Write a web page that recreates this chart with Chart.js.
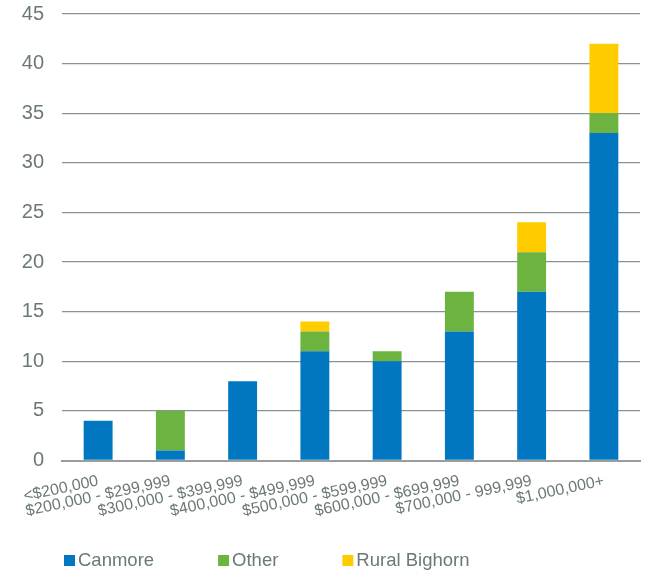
<!DOCTYPE html>
<html>
<head>
<meta charset="utf-8">
<script src="https://cdn.jsdelivr.net/npm/chart.js@4/dist/chart.umd.min.js"></script>
<style>
  html, body { margin: 0; padding: 0; background: #ffffff; }
  #wrap { width: 649px; height: 575px; }
</style>
</head>
<body>
<div id="wrap"><canvas id="priceBands"></canvas></div>
<script>
const priceBands = [
  "<$200,000",
  "$200,000 - $299,999",
  "$300,000 - $399,999",
  "$400,000 - $499,999",
  "$500,000 - $599,999",
  "$600,000 - $699,999",
  "$700,000 - 999,999",
  "$1,000,000+"
];
const canmore = [4, 1, 8, 11, 10, 13, 17, 33];
const other = [0, 4, 0, 2, 1, 4, 4, 2];
const ruralBighorn = [0, 0, 0, 1, 0, 0, 3, 7];
const yTicks = [0, 5, 10, 15, 20, 25, 30, 35, 40, 45];

const textGrey = "#6b7878";

// legend row drawn under the axis labels, spaced like the office template
const bottomLegend = {
  id: "bottomLegend",
  afterDraw(chart) {
    const ctx = chart.ctx;
    let x = 64;
    const y = 560;
    ctx.save();
    ctx.font = "18.5px 'Liberation Sans', Arial, sans-serif";
    ctx.textBaseline = "middle";
    ctx.textAlign = "left";
    chart.data.datasets.forEach(ds => {
      ctx.fillStyle = ds.backgroundColor;
      ctx.fillRect(x, y - 5, 11, 11);
      ctx.fillStyle = textGrey;
      ctx.fillText(ds.label, x + 14, y + 1);
      x += 14 + ctx.measureText(ds.label).width + 64;
    });
    ctx.restore();
  }
};

new Chart(document.getElementById("priceBands"), {
  type: "bar",
  data: {
    labels: priceBands,
    datasets: [
      { label: "Canmore", data: canmore, backgroundColor: "#0077c0" },
      { label: "Other", data: other, backgroundColor: "#6db33f" },
      { label: "Rural Bighorn", data: ruralBighorn, backgroundColor: "#ffcc00" }
    ]
  },
  options: {
    responsive: true,
    maintainAspectRatio: false,
    animation: false,
    layout: { padding: { top: 14, right: 9, left: 0, bottom: 43 } },
    datasets: {
      bar: {
        categoryPercentage: 1,
        barPercentage: 0.4,
        borderWidth: 0
      }
    },
    plugins: {
      legend: { display: false },
      tooltip: { enabled: false }
    },
    scales: {
      x: {
        stacked: true,
        grid: { display: false, drawTicks: false },
        border: { display: true, color: "#9c9c9c", width: 2 },
        ticks: {
          color: textGrey,
          font: { family: "'Liberation Sans', Arial, sans-serif", size: 16 },
          minRotation: 12,
          maxRotation: 12,
          autoSkip: false,
          padding: 11
        }
      },
      y: {
        stacked: true,
        min: 0,
        max: 45,
        afterFit: scale => {
          scale.width = 62;
          // the label gap should not push the plot down from the top
          scale.paddingTop = 0;
          scale.paddingBottom = 0;
        },
        afterBuildTicks: scale => { scale.ticks = yTicks.map(v => ({ value: v })); },
        grid: { color: "#889494", lineWidth: 1.3, drawTicks: false },
        border: { display: false },
        ticks: {
          color: textGrey,
          font: { family: "'Liberation Sans', Arial, sans-serif", size: 20 },
          padding: 18
        }
      }
    }
  },
  plugins: [bottomLegend]
});
</script>
</body>
</html>
